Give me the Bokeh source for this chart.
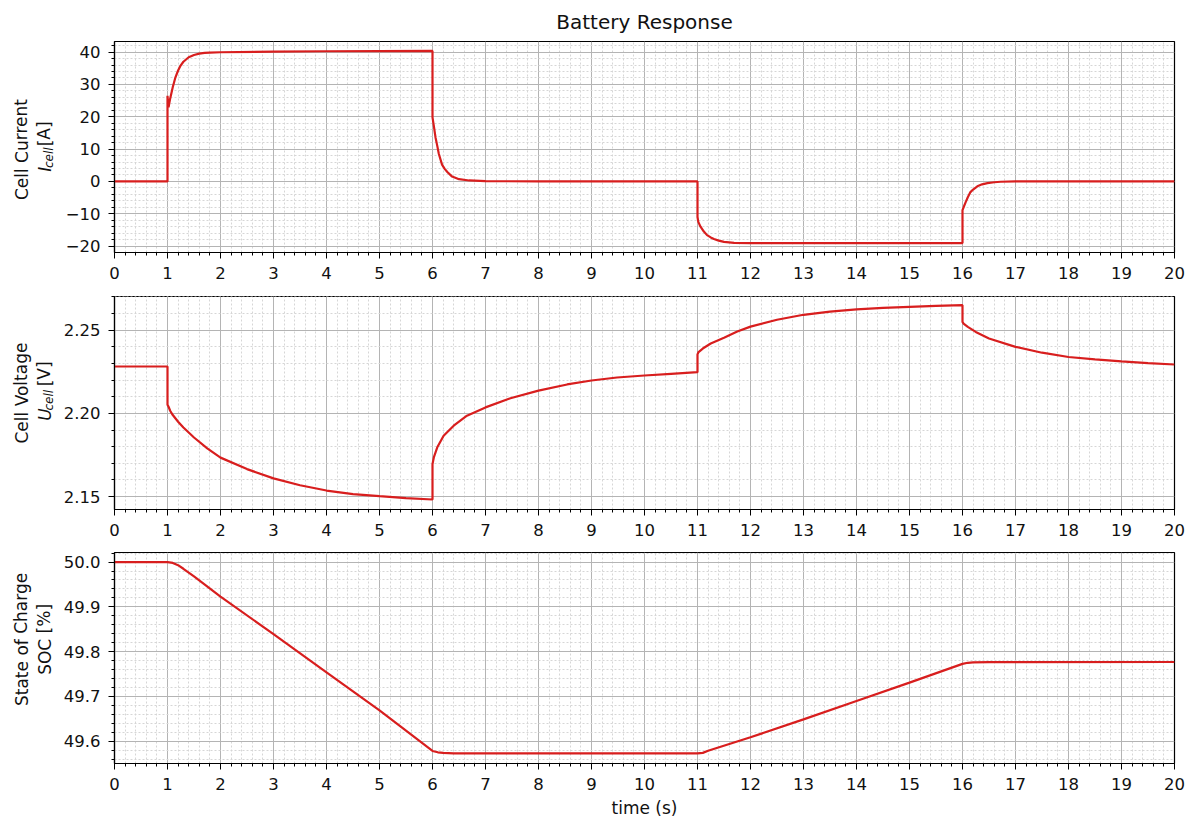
from bokeh.plotting import figure
from bokeh.models import Range1d, SingleIntervalTicker, CustomJSTickFormatter, Label
from bokeh.layouts import column, row
from bokeh.embed import file_html
from bokeh.resources import INLINE

# ---------------- data ----------------
t_current = [0.0, 1.0, 1.0, 1.02, 1.05, 1.1, 1.15, 1.2, 1.25, 1.3, 1.4, 1.5, 1.6, 1.7, 1.8, 2.0,
             3.0, 4.0, 5.0, 6.0, 6.0, 6.025, 6.057, 6.09, 6.12, 6.18, 6.23, 6.28, 6.37, 6.5,
             6.69, 7.0, 8.0, 11.0, 11.0, 11.015, 11.057, 11.12, 11.18, 11.25, 11.31, 11.4,
             11.5, 11.69, 12.0, 16.0, 16.0, 16.03, 16.06, 16.1, 16.15, 16.2, 16.28, 16.37,
             16.47, 16.6, 16.72, 17.0, 20.0]
i_cell = [0.0, 0.0, 26.5, 22.9, 25.6, 29.2, 32.2, 34.3, 35.9, 37.0, 38.4, 39.1, 39.5, 39.75,
          39.85, 39.95, 40.15, 40.25, 40.32, 40.35, 19.8, 17.2, 13.6, 11.0, 8.5, 5.2, 3.9,
          2.9, 1.5, 0.7, 0.3, 0.1, 0.0, 0.0, -11.0, -12.5, -14.0, -15.5, -16.6, -17.3,
          -17.8, -18.3, -18.7, -19.0, -19.05, -19.05, -8.9, -7.6, -6.4, -4.9, -3.3, -2.5,
          -1.5, -0.9, -0.5, -0.25, -0.1, 0.0, 0.0]

t_voltage = [0.0, 1.0, 1.0, 1.02, 1.05, 1.1, 1.2, 1.3, 1.5, 1.75, 2.0, 2.5, 3.0, 3.5, 4.0,
             4.5, 5.0, 5.5, 6.0, 6.0, 6.025, 6.09, 6.21, 6.4, 6.65, 7.0, 7.47, 8.0, 8.54,
             9.0, 9.48, 10.0, 10.5, 11.0, 11.0, 11.02, 11.1, 11.25, 11.5, 11.75, 12.0, 12.5,
             13.0, 13.5, 14.0, 14.5, 15.0, 15.5, 16.0, 16.0, 16.02, 16.1, 16.25, 16.5, 17.0,
             17.5, 18.0, 18.5, 19.0, 19.5, 20.0]
u_cell = [2.2282, 2.2282, 2.2052, 2.2040, 2.2016, 2.1990, 2.1950, 2.1915, 2.1855, 2.1790,
          2.1734, 2.1665, 2.1609, 2.1568, 2.1536, 2.1515, 2.1502, 2.1490, 2.1482, 2.1695,
          2.1735, 2.1796, 2.1866, 2.1926, 2.1986, 2.2036, 2.2091, 2.2137, 2.2174, 2.2198,
          2.2216, 2.2228, 2.2238, 2.2248, 2.2355, 2.2369, 2.2390, 2.2420, 2.2455, 2.2492,
          2.2522, 2.2563, 2.2593, 2.2612, 2.2625, 2.2634, 2.2641, 2.2647, 2.2651, 2.2550,
          2.2540, 2.2520, 2.2490, 2.2450, 2.2400, 2.2365, 2.2339, 2.2325, 2.2313, 2.2302,
          2.2294]

t_soc = [0.0, 1.0, 1.1, 1.2, 1.3, 1.5, 2.0, 3.0, 4.0, 5.0, 6.0, 6.1, 6.2, 6.4, 7.0, 11.0,
         11.1, 11.2, 12.0, 13.0, 14.0, 15.0, 16.0, 16.1, 16.2, 16.5, 20.0]
soc = [50.0, 50.0, 49.998, 49.993, 49.985, 49.968, 49.923, 49.839, 49.754, 49.669, 49.5785,
       49.5755, 49.5742, 49.5732, 49.5730, 49.5730, 49.5742, 49.579, 49.609, 49.649, 49.690,
       49.731, 49.7728, 49.7752, 49.7762, 49.7768, 49.7770]

x_range_limits = [0, 20]
current_limits = [-21.97, 43.27]
voltage_limits = [2.1422, 2.2703]
soc_limits = [49.5505, 50.0213]

title_text = "Battery Response"
x_label = "time (s)"

# ---------------- style / layout ----------------
FONT = "DejaVu Sans"
TXT = "#111111"
RED = "#d81e1e"
LW = 60         # width of the strip holding the y-axis titles
MW = 1127       # width of each plotting figure
ANG = 1.5708

xr = Range1d(*x_range_limits)


def make_fig(height, top, bottom, ylim, interval, decimals):
    p = figure(width=MW, height=height, x_range=xr, y_range=Range1d(*ylim),
               output_backend="svg", toolbar_location=None,
               min_border_left=54, min_border_right=13,
               min_border_top=top, min_border_bottom=bottom)
    p.background_fill_color = "white"
    p.border_fill_color = "white"
    p.outline_line_color = "black"
    p.outline_line_width = 1.2
    p.xaxis.ticker = SingleIntervalTicker(interval=1, num_minor_ticks=5)
    p.yaxis.ticker = SingleIntervalTicker(interval=interval, num_minor_ticks=5)
    p.yaxis.formatter = CustomJSTickFormatter(
        code="return (tick < -1e-9 ? '\u2212' : '') + Math.abs(tick).toFixed(%d);" % decimals)
    p.xaxis.formatter = CustomJSTickFormatter(code="return Math.round(tick).toString();")
    for ax in (p.xaxis, p.yaxis):
        ax.axis_line_color = "black"
        ax.axis_line_width = 1.2
        ax.major_tick_line_color = "black"
        ax.minor_tick_line_color = "black"
        ax.major_tick_out = 6
        ax.major_tick_in = 0
        ax.minor_tick_out = 3
        ax.minor_tick_in = 0
        ax.major_label_text_font = FONT
        ax.major_label_text_font_size = "16.5px"
        ax.major_label_text_color = TXT
    p.xaxis.major_label_standoff = 8
    p.yaxis.major_label_standoff = 8
    for g in (p.xgrid, p.ygrid):
        g.grid_line_color = "#b4b4b4"
        g.grid_line_width = 1
        g.minor_grid_line_color = "#d6d6d6"
        g.minor_grid_line_dash = "2 2"
        g.minor_grid_line_width = 1
    return p


def label_strip(height, yc, line1, pieces):
    """Narrow figure left of a panel; its frame is the whole strip, 1 unit = 1 px."""
    s = figure(width=LW, height=height, x_range=Range1d(0, LW), y_range=Range1d(0, height),
               output_backend="svg", toolbar_location=None,
               x_axis_location=None, y_axis_location=None,
               min_border=0, min_border_left=0, min_border_right=0,
               min_border_top=0, min_border_bottom=0)
    s.outline_line_color = None
    s.xgrid.visible = False
    s.ygrid.visible = False
    s.background_fill_color = "white"
    s.border_fill_color = "white"
    s.add_layout(Label(x=21, y=yc, text=line1, angle=ANG, text_align="center",
                       text_baseline="middle", text_font=FONT, text_font_size="17px",
                       text_color=TXT))
    for txt, xx, dy, size, style in pieces:
        s.add_layout(Label(x=xx, y=yc + dy, text=txt, angle=ANG, text_align="left",
                           text_baseline="middle", text_font=FONT, text_font_size=size,
                           text_font_style=style, text_color=TXT))
    return s


# top: current
H1, T1, B1 = 286, 41, 34
p1 = make_fig(H1, T1, B1, current_limits, 10, 0)
p1.line(t_current, i_cell, line_color=RED, line_width=2.2)
p1.title.text = title_text
p1.title.align = "center"
p1.title.text_font = FONT
p1.title.text_font_size = "20px"
p1.title.text_font_style = "normal"
p1.title.text_color = TXT
p1.title.standoff = 15
s1 = label_strip(H1, B1 + (H1 - T1 - B1) / 2.0, "Cell Current",
                 [("I", 44, -30, "17px", "italic"),
                  ("cell", 48.5, -25, "12px", "italic"),
                  ("[A]", 44, 4.5, "17px", "normal")])

# middle: voltage
H2, T2, B2 = 257, 10, 34
p2 = make_fig(H2, T2, B2, voltage_limits, 0.05, 2)
p2.line(t_voltage, u_cell, line_color=RED, line_width=2.2)
s2 = label_strip(H2, B2 + (H2 - T2 - B2) / 2.0, "Cell Voltage",
                 [("U", 44, -33.5, "17px", "italic"),
                  ("cell", 48.5, -21.1, "12px", "italic"),
                  ("[V]", 44, 8.2, "17px", "normal")])

# bottom: SOC
H3, T3, B3 = 278, 9, 58
p3 = make_fig(H3, T3, B3, soc_limits, 0.1, 1)
p3.line(t_soc, soc, line_color=RED, line_width=2.2)
p3.xaxis.axis_label = x_label
p3.xaxis.axis_label_text_font = FONT
p3.xaxis.axis_label_text_font_size = "17px"
p3.xaxis.axis_label_text_font_style = "normal"
p3.xaxis.axis_label_text_color = TXT
p3.xaxis.axis_label_standoff = 5
s3 = label_strip(H3, B3 + (H3 - T3 - B3) / 2.0, "State of Charge", [])
s3.add_layout(Label(x=44, y=B3 + (H3 - T3 - B3) / 2.0, text="SOC [%]", angle=ANG,
                    text_align="center", text_baseline="middle", text_font=FONT,
                    text_font_size="17px", text_color=TXT))

layout = column(row(s1, p1, spacing=0), row(s2, p2, spacing=0), row(s3, p3, spacing=0),
                spacing=0)
open("out.html", "w").write(file_html(layout, INLINE))
